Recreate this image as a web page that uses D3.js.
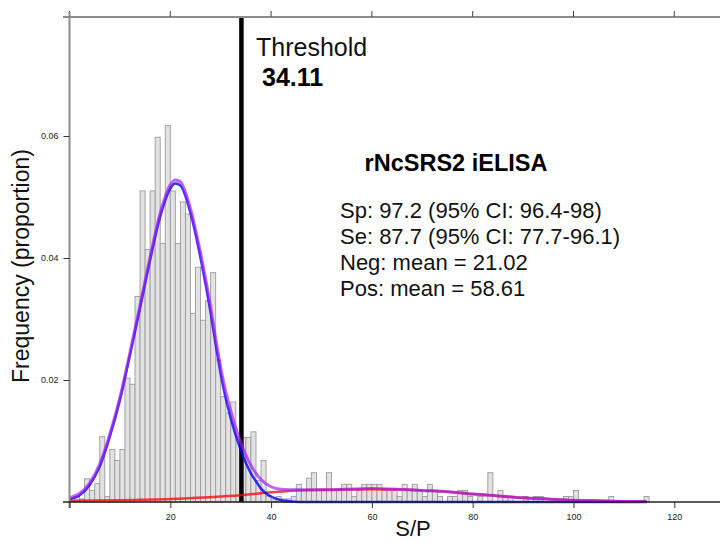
<!DOCTYPE html>
<html>
<head>
<meta charset="utf-8">
<script src="https://cdn.jsdelivr.net/npm/d3@7"></script>
<style>
  html, body { margin: 0; padding: 0; background: #fff; }
  svg { display: block; font-family: "Liberation Sans", Arial, sans-serif; }
</style>
</head>
<body>
<svg id="chart" width="720" height="542"></svg>
<script>
// ---------------- data ----------------
const binStarts = [0,1,2,3,4,5,6,7,8,9,10,11,12,13,14,15,16,17,18,19,20,21,22,23,24,25,26,27,28,29,
  30,31,32,33,34,35,36,37,38,39,40,41,42,43,44,45,46,47,48,49,50,51,52,53,54,55,56,57,58,59,
  60,61,62,63,64,65,66,67,68,69,70,71,72,73,74,75,76,77,78,79,80,81,82,83,84,85,86,87,88,89,
  90,91,92,93,94,95,96,97,98,99,100,101,102,103,104,105,106,107,108,109,110,111,112,113,114];
const binFreq = [0.0003,0.0009,0.0005,0.0038,0.0019,0.0030,0.0107,0.0009,0.0086,0.0068,
  0.0086,0.0203,0.0193,0.0337,0.0510,0.0414,0.0510,0.0598,0.0424,0.0617,
  0.0510,0.0424,0.0492,0.0472,0.0309,0.0385,0.0298,0.0330,0.0376,0.0233,
  0.0173,0.0146,0.0164,0.0107,0.0106,0.0106,0.0115,0.0035,0.0068,0.0010,
  0.0005,0.0009,0.0005,0.0005,0.0009,0.0029,0.0019,0.0039,0.0048,0.0019,
  0.0019,0.0048,0.0019,0.0019,0.0029,0.0029,0.0009,0.0019,0.0029,0.0029,
  0.0029,0.0029,0.0019,0.0019,0.0019,0.0009,0.0029,0.0019,0.0029,0.0019,
  0.0009,0.0029,0.0019,0.0009,0,0.0009,0.0009,0.0019,0.0019,0.0009,
  0,0.0009,0,0.0048,0,0.0019,0.0009,0.0009,0,0,
  0.0009,0,0.0009,0.0009,0,0,0,0,0.0009,0.0009,
  0.0019,0,0,0,0,0,0,0.0009,0,0,
  0,0,0,0,0.0009];

// fitted density curves (S/P value, density)
const negCurveX = [0,2,4,6,8,10,12,14,16,18,20,21,22,24,26,28,29,30,31,32,33,34,35,36,37,38,39,40,42,44,47,50,114.5];
const negCurveY = [0.0005,0.0011,0.0028,0.0058,0.0107,0.0167,0.0241,0.0318,0.0397,0.0468,0.0514,0.0522,0.0519,0.0474,0.0400,0.0310,0.0258,0.0210,0.0170,0.0137,0.0109,0.0085,0.0064,0.0047,0.0034,0.0022,0.0014,0.0009,0.0003,0.0001,0,0,0];
const posCurveX = [0,10,20,30,35,40,45,50,58.6,65,70,75,80,85,90,95,100,105,110,114.5];
const posCurveY = [0.0002,0.0003,0.0005,0.0009,0.0012,0.0016,0.0019,0.0020,0.0021,0.0021,0.0019,0.0017,0.0013,0.0010,0.0007,0.0005,0.0003,0.0002,0.0001,0.0001];
const mixCurveX = [0,2,4,6,8,10,12,14,16,18,20,21,22,24,26,28,29,30,31,32,33,34,35,36,37,38,40,42,45,50,55,60,65,70,75,80,85,90,95,100,105,110,114.5];
const mixCurveY = [0.0007,0.0014,0.0031,0.0062,0.0111,0.0171,0.0245,0.0323,0.0402,0.0474,0.0520,0.0528,0.0525,0.0481,0.0408,0.0320,0.0268,0.0220,0.0181,0.0149,0.0121,0.0097,0.0077,0.0060,0.0047,0.0037,0.0025,0.0021,0.0020,0.0020,0.0021,0.0022,0.0021,0.0019,0.0017,0.0013,0.0010,0.0007,0.0005,0.0003,0.0002,0.0001,0.0001];

const threshold = 34.11;
const xTicks = [0,20,40,60,80,100,120];
const xTickLabels = ["","20","40","60","80","100","120"];
const yTicks = [0.02,0.04,0.06];
const yTickLabels = ["0.02","0.04","0.06"];
const titleText = "rNcSRS2 iELISA";
const statLines = ["Sp: 97.2 (95% CI: 96.4-98)","Se: 87.7 (95% CI: 77.7-96.1)","Neg: mean = 21.02","Pos: mean = 58.61"];

// ---------------- scales ----------------
const svg = d3.select("#chart");
const x = d3.scaleLinear().domain([0,120]).range([69.5, 674.3]);
const y = d3.scaleLinear().domain([0,0.06]).range([502, 136]);
const yTop = y.invert(17);

// ---------------- histogram bars ----------------
const bars = binStarts.map((b,i) => ({x0:b, x1:b+1, v:binFreq[i]})).filter(d => d.v > 0);
svg.append("g").selectAll("rect").data(bars).join("rect")
  .attr("x", d => x(d.x0))
  .attr("y", d => y(d.v))
  .attr("width", d => x(d.x1) - x(d.x0))
  .attr("height", d => y(0) - y(d.v))
  .attr("fill", "#e2e2e2")
  .attr("stroke", "#9c9c9c")
  .attr("stroke-width", 0.9);

// ---------------- threshold line ----------------
svg.append("line")
  .attr("x1", x(threshold)).attr("x2", x(threshold))
  .attr("y1", y(yTop)).attr("y2", y(0))
  .attr("stroke", "#000").attr("stroke-width", 4.5);

// ---------------- curves ----------------
const line = d3.line().x(d => x(d[0])).y(d => y(d[1])).curve(d3.curveMonotoneX);
const pts = (xs, ys) => xs.map((v,i) => [v, ys[i]]);
svg.append("path").attr("d", line(pts(posCurveX,posCurveY)))
  .attr("fill","none").attr("stroke","#ff0000").attr("stroke-opacity",0.75).attr("stroke-width",2.5);
svg.append("path").attr("d", line(pts(negCurveX,negCurveY)))
  .attr("fill","none").attr("stroke","#0000ff").attr("stroke-opacity",0.8).attr("stroke-width",2.5);
svg.append("path").attr("d", line(pts(mixCurveX,mixCurveY)))
  .attr("fill","none").attr("stroke","#a020f0").attr("stroke-opacity",0.7).attr("stroke-width",3);

// ---------------- axes ----------------
const axG = svg.append("g");
axG.append("line").attr("x1", 63).attr("x2", 720).attr("y1", y(yTop)).attr("y2", y(yTop))
  .attr("stroke", "#8c8c8c").attr("stroke-width", 2);
axG.append("g").selectAll("line").data(xTicks).join("line")
  .attr("x1", d => x(d)).attr("x2", d => x(d))
  .attr("y1", y(yTop)).attr("y2", y(yTop) - 6)
  .attr("stroke", "#444").attr("stroke-width", 1);
axG.append("line").attr("x1", x(0)).attr("x2", x(0)).attr("y1", y(yTop) - 5).attr("y2", y(0) + 6)
  .attr("stroke", "#8c8c8c").attr("stroke-width", 2);
const xAxis = d3.axisBottom(x).tickValues(xTicks).tickFormat((d,i) => xTickLabels[i]).tickSize(6).tickSizeOuter(0);
const gx = svg.append("g").attr("transform", `translate(0,${y(0)})`).call(xAxis);
gx.select(".domain").remove();
gx.selectAll(".tick line").attr("stroke", "#333");
gx.selectAll(".tick text").attr("font-size", 9).attr("fill", "#222").attr("dy", "1.05em")
  .attr("font-family", "Liberation Sans, Arial, sans-serif");
axG.append("line").attr("x1", 63).attr("x2", 720).attr("y1", y(0)).attr("y2", y(0))
  .attr("stroke", "#222").attr("stroke-width", 1.5);
const yAxis = d3.axisLeft(y).tickValues(yTicks).tickFormat((d,i) => yTickLabels[i]).tickSize(6).tickSizeOuter(0);
const gy = svg.append("g").attr("transform", `translate(${x(0)},0)`).call(yAxis);
gy.select(".domain").remove();
gy.selectAll(".tick line").attr("stroke", "#333");
gy.selectAll(".tick text").attr("font-size", 9).attr("fill", "#222").attr("x", -11)
  .attr("font-family", "Liberation Sans, Arial, sans-serif");

// ---------------- titles & annotations ----------------
svg.append("text").attr("x", 413).attr("y", 536).attr("text-anchor", "middle")
  .attr("font-size", 22).attr("fill", "#111").text("S/P");
svg.append("text").attr("transform", "translate(29,266) rotate(-90)").attr("text-anchor", "middle")
  .attr("font-size", 23).attr("fill", "#111").text("Frequency (proportion)");

svg.append("text").attr("x", 256).attr("y", 56).attr("font-size", 25).attr("fill", "#111").text("Threshold");
svg.append("text").attr("x", 262).attr("y", 86).attr("font-size", 25).attr("font-weight", "bold").attr("fill", "#000").text(threshold.toFixed(2));

svg.append("text").attr("x", 456).attr("y", 171).attr("text-anchor", "middle")
  .attr("font-size", 23.5).attr("font-weight", "bold").attr("fill", "#000").text(titleText);
svg.append("g").selectAll("text").data(statLines).join("text")
  .attr("x", 340).attr("y", (d,i) => 218 + i * 26)
  .attr("font-size", 22).attr("fill", "#111").text(d => d);
</script>
</body>
</html>
